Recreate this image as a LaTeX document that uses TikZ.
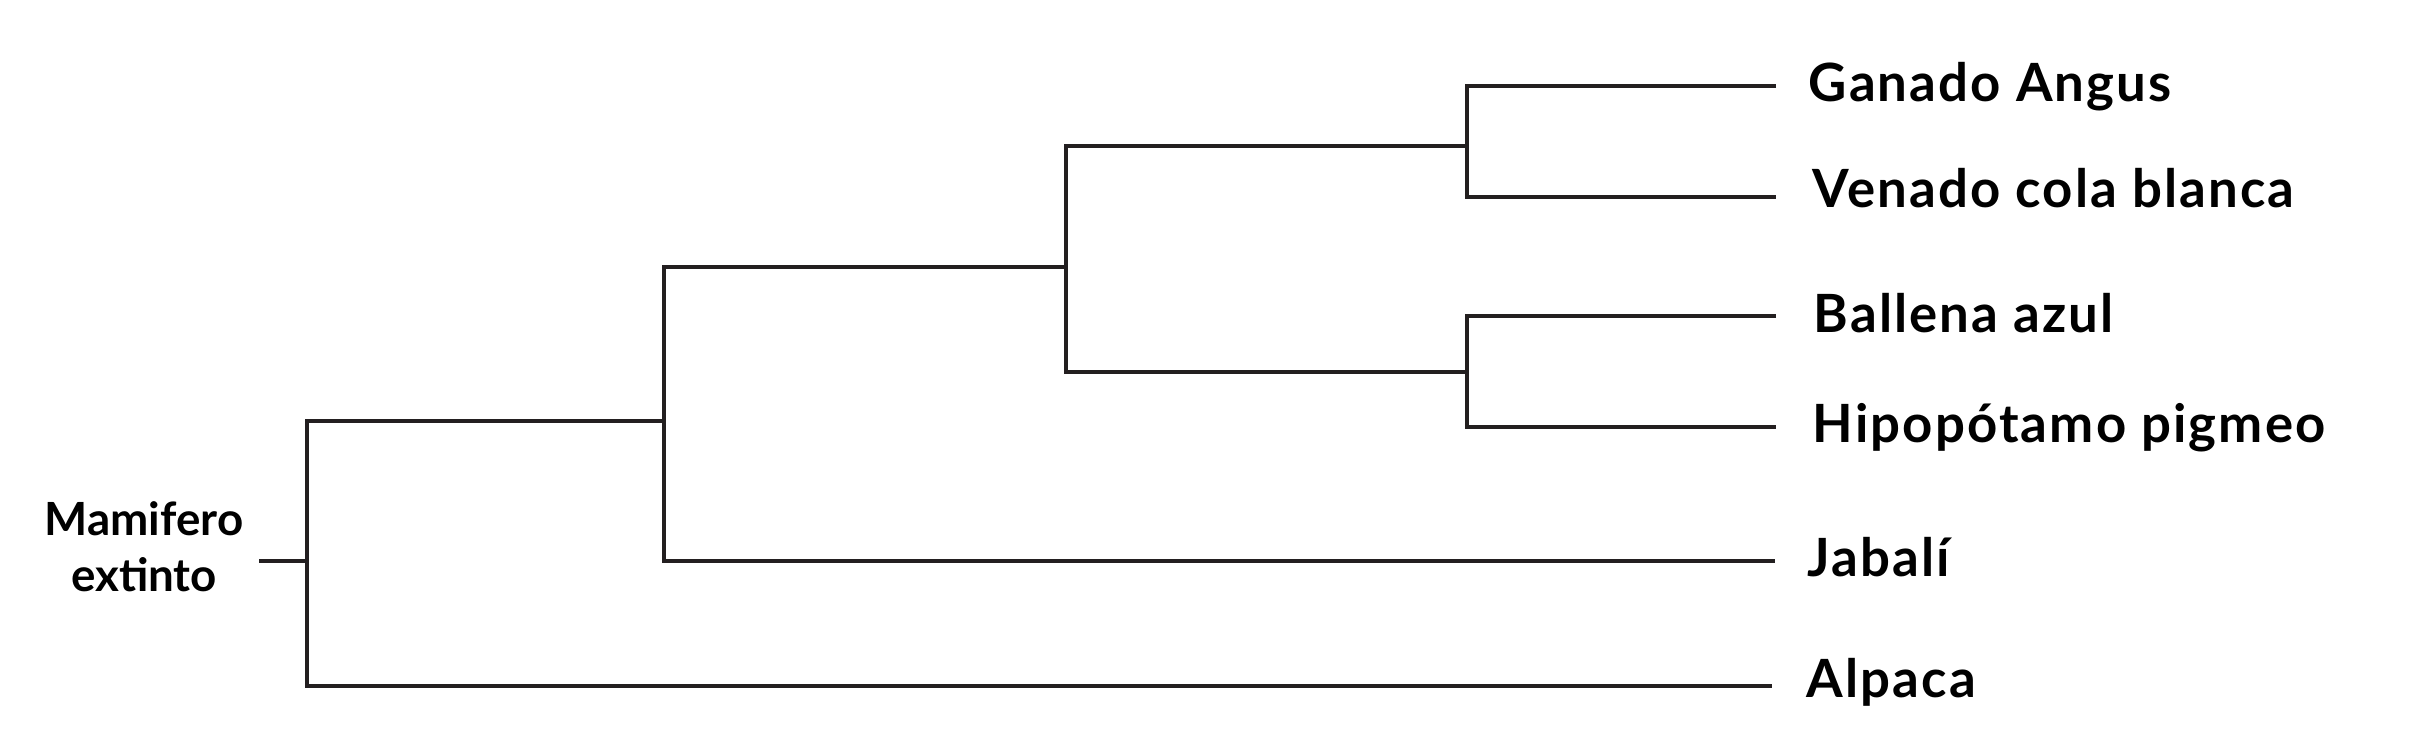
\documentclass[tikz,border=0pt]{standalone}
\usepackage{fontspec}
\setmainfont{Lato}
\newfontfamily\taxonfont{Lato}[LetterSpace=4]
\usetikzlibrary{calc}
\definecolor{Branch}{RGB}{35, 31, 32}

\begin{document}
\begin{tikzpicture}[x=0.01cm,y=-0.01cm,
  branch/.style={line width=1.15pt,Branch},
  taxon/.style={anchor=base west,inner sep=0pt,font=\taxonfont\fontsize{15}{18}\selectfont\bfseries},
  ancestor/.style={align=center,inner sep=0pt,font=\fontsize{13}{16}\selectfont\bfseries}]
\useasboundingbox (0,0) rectangle (2416,754);
%\draw[help lines,step=100] (0,0) grid (2416,754);
% inner nodes and tips
\coordinate (stub) at (259,561);
\coordinate (root) at (307,561);
\coordinate (suina) at (664,421);
\coordinate (cetart) at (1066,267);
\coordinate (rumin) at (1467,146);
\coordinate (whippo) at (1467,372);
\coordinate (tipA) at (1776,86);
\coordinate (tipB) at (1776,197);
\coordinate (tipC) at (1776,316);
\coordinate (tipD) at (1776,427);
\coordinate (tipE) at (1775,561);
\coordinate (tipF) at (1772,686);
% branches
\draw[branch] (stub) -- (root);
\draw[branch] (suina) -| (root) |- (tipF);
\draw[branch] (cetart) -| (suina) |- (tipE);
\draw[branch] (rumin) -| (cetart) |- (whippo);
\draw[branch] (tipA) -| (rumin) |- (tipB);
\draw[branch] (tipC) -| (whippo) |- (tipD);
% labels
\node[taxon] (angus) at ($(tipA)+(32,15)$) {Ganado Angus};
\node[taxon] (venado) at ($(tipB)+(36,10)$) {Venado cola blanca};
\node[taxon] (ballena) at ($(tipC)+(37,16)$) {Ballena azul};
\node[taxon] (hipo) at ($(tipD)+(36,15)$) {Hipopótamo pigmeo};
\node[taxon] (jabali) at ($(tipE)+(32,15)$) {Jabalí};
\node[taxon] (alpaca) at ($(tipF)+(34,11)$) {Alpaca};
\node[ancestor] (mamifero) at (144,547) {Mamifero\\extinto};
\end{tikzpicture}
\end{document}
